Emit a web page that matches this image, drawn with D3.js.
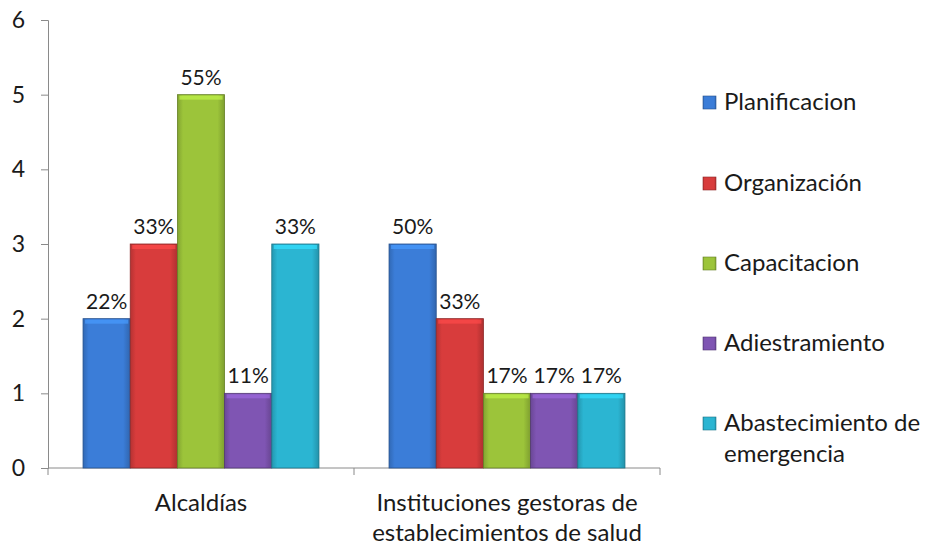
<!DOCTYPE html>
<html><head><meta charset="utf-8">
<script src="https://cdn.jsdelivr.net/npm/d3@7"></script>
<style>body{margin:0;background:#fff}svg{display:block}text{font-family:Lato,"Open Sans",sans-serif;fill:#1a1a1a}</style>
</head><body><svg id="c" width="927" height="546"></svg>
<script>
const categories = [["Alcaldías"], ["Instituciones gestoras de", "establecimientos de salud"]];
const seriesNames = ["Planificacion", "Organización", "Capacitacion", "Adiestramiento", "Abastecimiento de emergencia"];
const alcaldias = [2, 3, 5, 1, 3];
const instituciones = [3, 2, 1, 1, 1];
const alcaldiasPct = ["22%", "33%", "55%", "11%", "33%"];
const institucionesPct = ["50%", "33%", "17%", "17%", "17%"];
const yTicks = [0, 1, 2, 3, 4, 5, 6];
const colors = ["#3b7dd8", "#d83c3c", "#9cc43a", "#7f55b3", "#2bb5d2"];

const values = [alcaldias, instituciones];
const pcts = [alcaldiasPct, institucionesPct];

const svg = d3.select("#c");
const mLeft = 48, mRight = 660, mTop = 20, mBottom = 468;
const y = d3.scaleLinear().domain([0, 6]).range([mBottom, mTop]);
const x0 = d3.scaleBand().domain(d3.range(categories.length)).range([mLeft, mRight]).paddingInner(0).paddingOuter(0);
const inner = 0.771;
const x1 = d3.scaleBand().domain(d3.range(seriesNames.length)).range([0, x0.bandwidth() * inner]);

const defs = svg.append("defs");
colors.forEach((c, i) => {
  const g = defs.append("linearGradient").attr("id", "g" + i).attr("x1", 0).attr("x2", 1).attr("y1", 0).attr("y2", 0);
  g.append("stop").attr("offset", "0%").attr("stop-color", d3.color(c).darker(0.5));
  g.append("stop").attr("offset", "12%").attr("stop-color", c);
  g.append("stop").attr("offset", "85%").attr("stop-color", c);
  g.append("stop").attr("offset", "100%").attr("stop-color", d3.color(c).darker(0.6));
});

// axes
const yAxis = d3.axisLeft(y).tickValues(yTicks).tickSize(7).tickPadding(16).tickFormat(d3.format("d"));
const ya = svg.append("g").attr("transform", `translate(${mLeft},0)`).call(yAxis);
ya.select(".domain").attr("stroke", "#8a8a8a");
ya.selectAll(".tick line").attr("stroke", "#8a8a8a");
ya.selectAll(".tick text").attr("font-size", 23).attr("fill", "#1a1a1a").style("font-family", 'Lato,sans-serif');

const xg = svg.append("g").attr("transform", `translate(0,${mBottom})`);
xg.append("line").attr("x1", mLeft).attr("x2", mRight).attr("stroke", "#8a8a8a");
d3.range(categories.length + 1).forEach(i => {
  const xx = i < categories.length ? x0(i) : mRight;
  xg.append("line").attr("x1", xx).attr("x2", xx).attr("y1", 0).attr("y2", 7).attr("stroke", "#8a8a8a");
});

// bars
categories.forEach((cat, ci) => {
  const off = x0(ci) + x0.bandwidth() * (1 - inner) / 2;
  const g = svg.append("g").attr("transform", `translate(${off},0)`);
  values[ci].forEach((v, si) => {
    const bx = x1(si), bw = x1.bandwidth(), by = y(v), bh = y(0) - y(v);
    g.append("rect").attr("x", bx).attr("y", by).attr("width", bw).attr("height", bh)
      .attr("fill", `url(#g${si})`).attr("stroke", d3.color(colors[si]).darker(1.2)).attr("stroke-width", 0.8);
    g.append("rect").attr("x", bx + 2).attr("y", by + 1).attr("width", bw - 4).attr("height", 4)
      .attr("fill", d3.color(colors[si]).brighter(0.6)).attr("opacity", 0.7);
    g.append("text").attr("x", bx + bw / 2).attr("y", by - 10).attr("text-anchor", "middle")
      .attr("font-size", 21).text(pcts[ci][si]);
  });
  const cx = x0(ci) + x0.bandwidth() / 2;
  cat.forEach((line, li) => {
    svg.append("text").attr("x", cx).attr("y", 511 + li * 30).attr("text-anchor", "middle")
      .attr("font-size", 24).text(line);
  });
});

// legend
const legY = [101, 182, 262, 342, 422];
seriesNames.forEach((name, i) => {
  const g = svg.append("g").attr("transform", `translate(703,${legY[i]})`);
  g.append("rect").attr("x", 0).attr("y", -5).attr("width", 13).attr("height", 13)
    .attr("fill", `url(#g${i})`).attr("stroke", d3.color(colors[i]).darker(1.2)).attr("stroke-width", 0.6);
  const lines = i === 4 ? ["Abastecimiento de", "emergencia"] : [name];
  lines.forEach((l, li) => {
    g.append("text").attr("x", 21).attr("y", 9 + li * 31).attr("font-size", 24).text(l);
  });
});
</script></body></html>
